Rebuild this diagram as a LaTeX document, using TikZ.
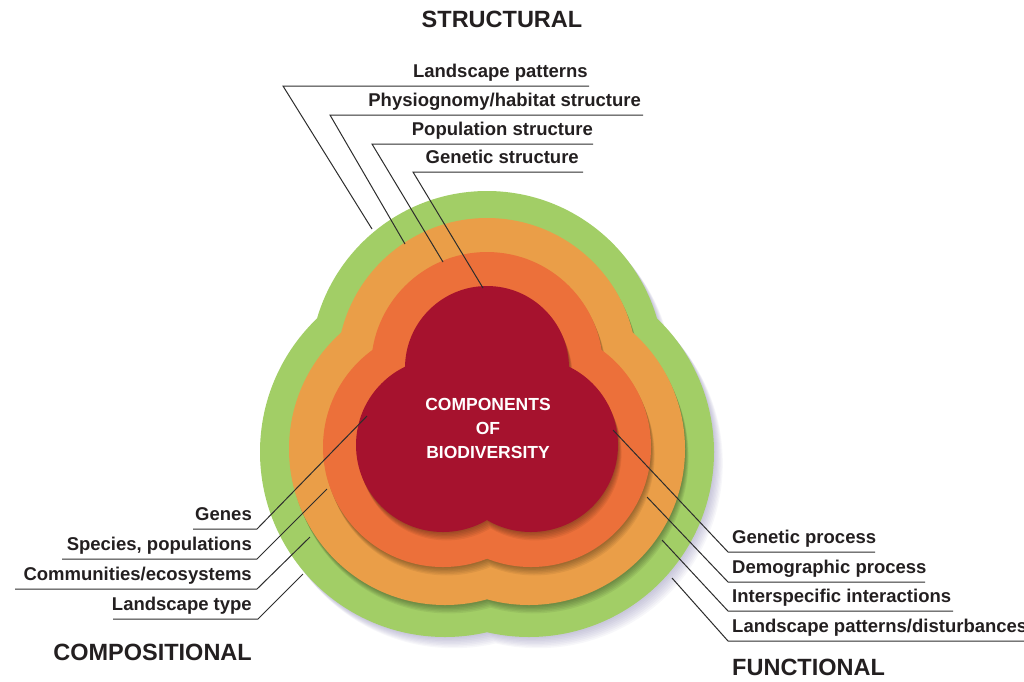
\documentclass[tikz,border=0pt]{standalone}
\usepackage{fontspec}
\setmainfont{Liberation Sans}
\definecolor{cgreen}{RGB}{162,206,102}
\definecolor{clight}{RGB}{234,158,72}
\definecolor{corange}{RGB}{236,112,58}
\definecolor{cred}{RGB}{166,18,46}
\definecolor{ctext}{RGB}{35,31,32}
\definecolor{cline}{RGB}{45,45,45}
\definecolor{cshadow}{RGB}{110,105,160}
\tikzset{
  % #1 top radius, #2 bottom radius, #3 outward shift of bottom lobes, #4 downward shift of bottom lobes, #5/#6 shadow offset
  tref/.style n args={6}{insert path={({487+#5},{368+#6}) circle[radius={#1}] ({443-#3+#5},{445+#4+#6}) circle[radius={#2}] ({531+#3+#5},{445+#4+#6}) circle[radius={#2}]}},
  lbl/.style={inner sep=0pt, text=ctext, font=\fontsize{18.5}{22}\selectfont\bfseries},
  head/.style={inner sep=0pt, text=ctext, font=\fontsize{23.5}{28}\selectfont\bfseries},
  ctr/.style={inner sep=0pt, text=white, font=\fontsize{17.5}{21}\selectfont\bfseries, anchor=base},
  ln/.style={draw=cline, line width=1pt},
}
\begin{document}
\begin{tikzpicture}[x=1pt,y=-1pt]
\useasboundingbox (0,0) rectangle (1024,681);
% green layer with soft shadow
\foreach \k in {1,...,8} {\fill[cshadow, opacity=0.055, tref={177}{185}{-2}{7}{1.1*\k}{1.4*\k}];}
\fill[cgreen, tref={177}{185}{-2}{7}{0}{0}];
% light orange layer
\foreach \k in {1,...,6} {\fill[black, opacity=0.06, tref={150}{156}{-2}{4}{0.6*\k}{1.4*\k}];}
\fill[clight, tref={150}{156}{-2}{4}{0}{0}];
% orange layer
\foreach \k in {1,...,6} {\fill[black, opacity=0.06, tref={116}{120}{0}{2}{0.6*\k}{1.4*\k}];}
\fill[corange, tref={116}{120}{0}{2}{0}{0}];
% red core
\foreach \k in {1,...,6} {\fill[black, opacity=0.06, tref={82}{87}{0}{0}{0.6*\k}{1.4*\k}];}
\fill[cred, tref={82}{87}{0}{0}{0}{0}];

% centre text
\node[ctr] (c1) at (488,410) {COMPONENTS};
\node[ctr] (c2) at (488,434) {OF};
\node[ctr] (c3) at (488,458) {BIODIVERSITY};

% headings
\node[head, anchor=base] (hS) at (502,27) {STRUCTURAL};
\node[head, anchor=base east] (hC) at (252,660) {COMPOSITIONAL};
\node[head, anchor=base west] (hF) at (732,675) {FUNCTIONAL};

% structural labels
\node[lbl, anchor=base east] (s1) at (588,77) {Landscape patterns};
\node[lbl, anchor=base east] (s2) at (641,106) {Physiognomy/habitat structure};
\node[lbl, anchor=base east] (s3) at (593,135) {Population structure};
\node[lbl, anchor=base east] (s4) at (579,163) {Genetic structure};
\coordinate (s1e) at (589,86);  \coordinate (s1c) at (283,86);  \coordinate (s1t) at (372,229);
\coordinate (s2e) at (643,115); \coordinate (s2c) at (330,115); \coordinate (s2t) at (405,244);
\coordinate (s3e) at (593,144); \coordinate (s3c) at (372,144); \coordinate (s3t) at (443,262);
\coordinate (s4e) at (583,172); \coordinate (s4c) at (413,172); \coordinate (s4t) at (483,288);
\draw[ln] (s1t) -- (s1c) -- (s1e);
\draw[ln] (s2t) -- (s2c) -- (s2e);
\draw[ln] (s3t) -- (s3c) -- (s3e);
\draw[ln] (s4t) -- (s4c) -- (s4e);

% compositional labels
\node[lbl, anchor=base east] (p1) at (252,520) {Genes};
\node[lbl, anchor=base east] (p2) at (252,550) {Species, populations};
\node[lbl, anchor=base east] (p3) at (252,580) {Communities/ecosystems};
\node[lbl, anchor=base east] (p4) at (252,610) {Landscape type};
\coordinate (p1e) at (193,529); \coordinate (p1c) at (257,529); \coordinate (p1t) at (367,416);
\coordinate (p2e) at (62,559);  \coordinate (p2c) at (257,559); \coordinate (p2t) at (327,489);
\coordinate (p3e) at (15,589);  \coordinate (p3c) at (257,589); \coordinate (p3t) at (310,537);
\coordinate (p4e) at (113,619); \coordinate (p4c) at (258,619); \coordinate (p4t) at (303,574);
\draw[ln] (p1t) -- (p1c) -- (p1e);
\draw[ln] (p2t) -- (p2c) -- (p2e);
\draw[ln] (p3t) -- (p3c) -- (p3e);
\draw[ln] (p4t) -- (p4c) -- (p4e);

% functional labels
\node[lbl, anchor=base west] (f1) at (732,543) {Genetic process};
\node[lbl, anchor=base west] (f2) at (732,573) {Demographic process};
\node[lbl, anchor=base west] (f3) at (732,602) {Interspecific interactions};
\node[lbl, anchor=base west] (f4) at (732,632) {Landscape patterns/disturbances};
\coordinate (f1e) at (875,552);  \coordinate (f1c) at (728,552); \coordinate (f1t) at (613,430);
\coordinate (f2e) at (925,582);  \coordinate (f2c) at (728,582); \coordinate (f2t) at (647,497);
\coordinate (f3e) at (953,611);  \coordinate (f3c) at (728,611); \coordinate (f3t) at (662,540);
\coordinate (f4e) at (1024,641); \coordinate (f4c) at (728,641); \coordinate (f4t) at (672,578);
\draw[ln] (f1t) -- (f1c) -- (f1e);
\draw[ln] (f2t) -- (f2c) -- (f2e);
\draw[ln] (f3t) -- (f3c) -- (f3e);
\draw[ln] (f4t) -- (f4c) -- (f4e);
\end{tikzpicture}
\end{document}
